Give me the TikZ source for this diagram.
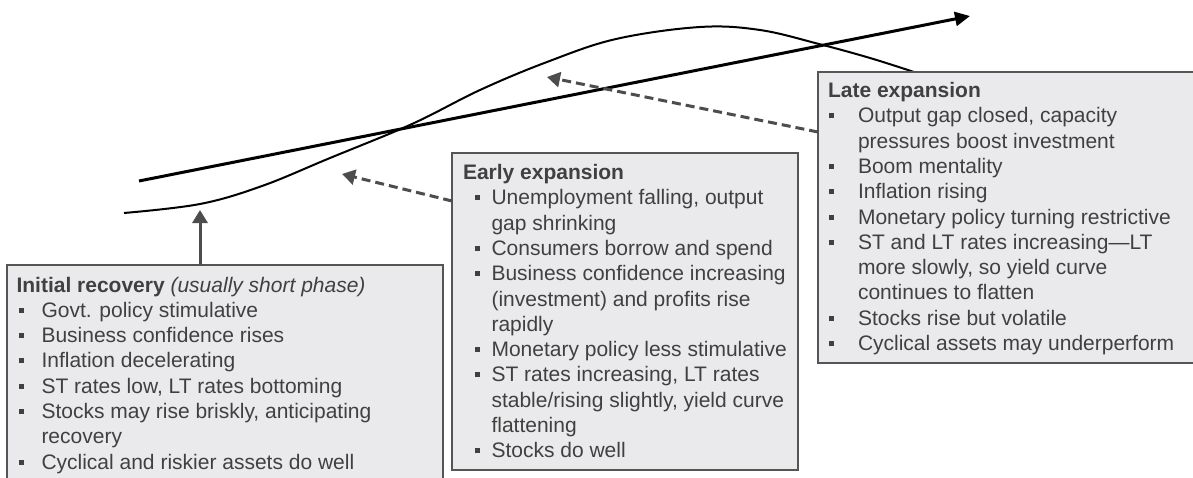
\documentclass[tikz,border=0pt]{standalone}
\usepackage{fontspec}
\setmainfont{Liberation Sans}
\usetikzlibrary{arrows.meta}
\definecolor{boxfill}{HTML}{EAEAEC}
\definecolor{boxline}{HTML}{555555}
\definecolor{txtgray}{HTML}{404040}
\definecolor{arrgray}{HTML}{4D4D4D}
\newcommand{\bxitem}[3]{\par\noindent\hangindent=#2\hangafter=1\makebox[#2][l]{\hspace*{#1}\rule[4.5pt]{5pt}{5pt}}#3}
\newcommand{\nl}{\hfil\break}
\newenvironment{bxtext}[1]{\begin{minipage}[t]{#1}\raggedright\parindent=0pt\parskip=0pt}{\end{minipage}}
\tikzset{
  pbox/.style={draw=boxline, fill=boxfill, line width=2.5pt, inner sep=0pt, outer sep=0pt, anchor=north west},
  txt/.style={inner sep=0pt, outer sep=0pt, anchor=base west, text=txtgray, font=\fontsize{21}{25.3}\selectfont},
  curveline/.style={line width=2pt, black},
  mainline/.style={line width=3pt, black, -{Triangle[length=15pt,width=14pt]}},
  uparrow/.style={line width=3pt, arrgray, -{Triangle[length=13pt,width=15pt]}},
  dasharrow/.style={line width=3pt, arrgray, dash pattern=on 9pt off 5pt, -{Triangle[length=13pt,width=15pt]}}
}
\begin{document}
\begin{tikzpicture}[x=1pt,y=-1pt]
\useasboundingbox (0,0) rectangle (1193,477);
\clip (0,0) rectangle (1193,477);
% S-curve
\draw[curveline] plot[smooth, tension=0.6] coordinates {(124,213) (200,204) (262,186) (330,158) (412,124) (480,90) (547,62) (616,39) (700,27) (760,30) (819,44) (870,58) (914,72)};
% straight trend line
\coordinate (ls) at (139,181);
\coordinate (le) at (970,16);
\draw[mainline] (ls) -- (le);
% boxes
\node[pbox, minimum width=436pt, minimum height=240pt] (ibox) at (7,265) {};
\node[pbox, minimum width=346pt, minimum height=317pt] (ebox) at (452,153) {};
\node[pbox, minimum width=400pt, minimum height=291pt] (lbox) at (818,72) {};
% arrows
\coordinate (t1) at (200,210);
\draw[uparrow] (ibox.north -| t1) -- (t1);
\coordinate (t2) at (342,174);
\coordinate (s2) at (452,201);
\draw[dasharrow] (ebox.west |- s2) -- (t2);
\coordinate (t3) at (547,77);
\coordinate (s3) at (818,132);
\draw[dasharrow] (lbox.west |- s3) -- (t3);
% texts
\node[txt] (itext) at (16.5,292) {\begin{bxtext}{420pt}%
\textbf{Initial recovery} \textit{(usually short phase)}%
\bxitem{2.5pt}{25pt}{Govt. policy stimulative}%
\bxitem{2.5pt}{25pt}{Business confidence rises}%
\bxitem{2.5pt}{25pt}{Inflation decelerating}%
\bxitem{2.5pt}{25pt}{ST rates low, LT rates bottoming}%
\bxitem{2.5pt}{25pt}{Stocks may rise briskly, anticipating\nl recovery}%
\bxitem{2.5pt}{25pt}{Cyclical and riskier assets do well}%
\end{bxtext}};
\node[txt] (etext) at (463,179.5) {\begin{bxtext}{400pt}%
\textbf{Early expansion}%
\bxitem{12pt}{28.5pt}{Unemployment falling, output\nl gap shrinking}%
\bxitem{12pt}{28.5pt}{Consumers borrow and spend}%
\bxitem{12pt}{28.5pt}{Business confidence increasing\nl (investment) and profits rise\nl rapidly}%
\bxitem{12pt}{28.5pt}{Monetary policy less stimulative}%
\bxitem{12pt}{28.5pt}{ST rates increasing, LT rates\nl stable/rising slightly, yield curve\nl flattening}%
\bxitem{12pt}{28.5pt}{Stocks do well}%
\end{bxtext}};
\node[txt] (ltext) at (828,97.5) {\begin{bxtext}{400pt}%
\textbf{Late expansion}%
\bxitem{1pt}{30pt}{Output gap closed, capacity\nl pressures boost investment}%
\bxitem{1pt}{30pt}{Boom mentality}%
\bxitem{1pt}{30pt}{Inflation rising}%
\bxitem{1pt}{30pt}{Monetary policy turning restrictive}%
\bxitem{1pt}{30pt}{ST and LT rates increasing—LT\nl more slowly, so yield curve\nl continues to flatten}%
\bxitem{1pt}{30pt}{Stocks rise but volatile}%
\bxitem{1pt}{30pt}{Cyclical assets may underperform}%
\end{bxtext}};
\end{tikzpicture}
\end{document}
